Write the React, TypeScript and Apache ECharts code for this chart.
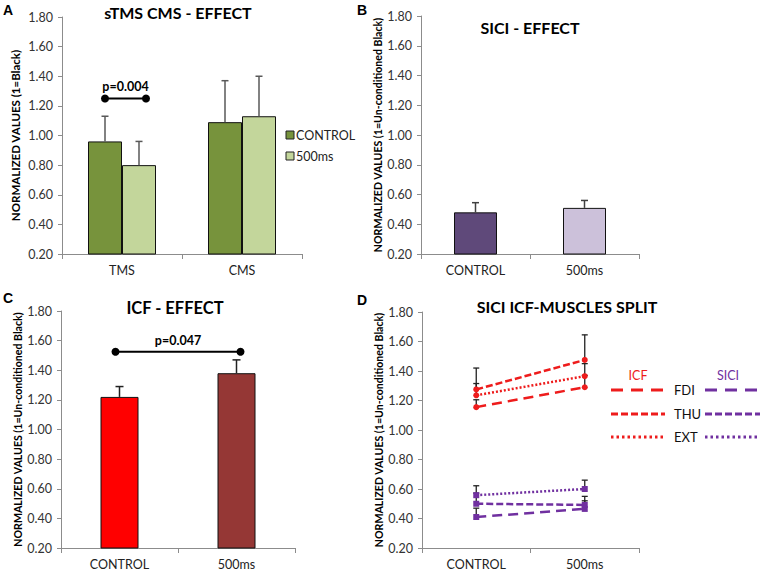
import React, { useEffect, useRef } from "react";
import * as echarts from "echarts";

// ---------- Panel A : sTMS CMS - EFFECT ----------
const aCategories = ["TMS", "CMS"];
const aSeriesNames = ["CONTROL", "500ms"];
const aControl = [0.96, 1.09];
const aControlErr = [1.13, 1.37];
const a500 = [0.8, 1.13];
const a500Err = [0.96, 1.4];
const aSigValue = 1.25;
const aSigLabel = "p=0.004";

// ---------- Panel B : SICI - EFFECT ----------
const bCategories = ["CONTROL", "500ms"];
const bValues = [0.48, 0.51];
const bErr = [0.545, 0.56];

// ---------- Panel C : ICF - EFFECT ----------
const cCategories = ["CONTROL", "500ms"];
const cValues = [1.22, 1.38];
const cErr = [1.29, 1.47];
const cSigValue = 1.525;
const cSigLabel = "p=0.047";

// ---------- Panel D : SICI ICF-MUSCLES SPLIT ----------
const dCategories = ["CONTROL", "500ms"];
const dMuscles = ["FDI", "THU", "EXT"];
const icfFDI = [1.155, 1.29];
const icfFDIErr = [1.205, 1.37];
const icfTHU = [1.275, 1.475];
const icfTHUErr = [1.42, 1.645];
const icfEXT = [1.235, 1.365];
const icfEXTErr = [1.315, 1.45];
const siciFDI = [0.41, 0.465];
const siciFDIErr = [0.47, 0.52];
const siciTHU = [0.5, 0.492];
const siciTHUErr = [0.572, 0.55];
const siciEXT = [0.558, 0.6];
const siciEXTErr = [0.622, 0.66];

const yTicksMin = 0.2;
const yTicksMax = 1.8;
const yTicksStep = 0.2;

const FONT = "Lato";

const errRender = (offset: number, color: string, cap: number, lw: number) =>
  (params: any, api: any) => {
    const xi = api.value(0);
    const p0 = api.coord([xi, api.value(1)]);
    const p1 = api.coord([xi, api.value(2)]);
    const x = p0[0] + offset;
    return {
      type: "group",
      children: [
        { type: "line", shape: { x1: x, y1: p0[1], x2: x, y2: p1[1] }, style: { stroke: color, lineWidth: lw } },
        { type: "line", shape: { x1: x - cap / 2, y1: p1[1], x2: x + cap / 2, y2: p1[1] }, style: { stroke: color, lineWidth: lw } },
      ],
    };
  };

const sigRender = (off1: number, off2: number, label: string) =>
  (params: any, api: any) => {
    const p1 = api.coord([api.value(0), api.value(2)]);
    const p2 = api.coord([api.value(1), api.value(2)]);
    const x1 = p1[0] + off1;
    const x2 = p2[0] + off2;
    const y = p1[1];
    return {
      type: "group",
      children: [
        { type: "line", shape: { x1, y1: y, x2, y2: y }, style: { stroke: "#000", lineWidth: 2 } },
        { type: "circle", shape: { cx: x1, cy: y, r: 4 }, style: { fill: "#000" } },
        { type: "circle", shape: { cx: x2, cy: y, r: 4 }, style: { fill: "#000" } },
        {
          type: "text",
          style: {
            text: label,
            x: (x1 + x2) / 2,
            y: y - 5,
            align: "center",
            verticalAlign: "bottom",
            fontSize: 12.5,
            fontWeight: "bold",
            fontFamily: FONT,
            fill: "#000",
          },
        },
      ],
    };
  };

const errData = (vals: number[], errs: number[]) => vals.map((v, i) => [i, v, errs[i]]);

export default function App() {
  const ref = useRef<HTMLDivElement>(null);

  useEffect(() => {
    if (!ref.current) return;
    const chart = echarts.init(ref.current, null, { renderer: "svg" });

    const grids = [
      { left: 62, top: 17, width: 240, height: 237 },
      { left: 421, top: 16, width: 218, height: 238 },
      { left: 61, top: 311, width: 234, height: 238 },
      { left: 422, top: 312, width: 217, height: 237 },
    ];
    const axisGray = "#8c8c8c";
    const cats = [aCategories, bCategories, cCategories, dCategories];
    const xAxis = cats.map((c, i) => ({
      type: "category",
      gridIndex: i,
      data: c,
      axisLine: { lineStyle: { color: axisGray, width: 1 } },
      axisTick: { show: true, alignWithLabel: false, length: 5, lineStyle: { color: axisGray } },
      axisLabel: { fontSize: 12.5, fontFamily: FONT, color: "#222", margin: 10 },
      splitLine: { show: false },
    }));
    const yNames = [
      "NORMALIZED VALUES (1=Black)",
      "NORMALIZED VALUES (1=Un-conditioned Black)",
      "NORMALIZED VALUES (1=Un-conditioned Black)",
      "NORMALIZED VALUES (1=Un-conditioned Black)",
    ];
    const yNameSize = [11.5, 10.6, 10.6, 10.6];
    const yNameGap = [41, 37, 38, 38];
    const yAxis = yNames.map((n, i) => ({
      type: "value",
      gridIndex: i,
      min: yTicksMin,
      max: yTicksMax,
      interval: yTicksStep,
      name: n,
      nameLocation: "middle",
      nameGap: yNameGap[i],
      nameTextStyle: { fontSize: yNameSize[i], fontWeight: "bold", fontFamily: FONT, color: "#000" },
      axisLine: { show: true, lineStyle: { color: axisGray, width: 1 } },
      axisTick: { show: true, length: 4, lineStyle: { color: axisGray } },
      axisLabel: {
        fontSize: 12.5,
        fontFamily: FONT,
        color: "#333",
        margin: 9,
        formatter: (v: number) => v.toFixed(2),
      },
      splitLine: { show: false },
    }));

    const barBorder = { borderColor: "#111", borderWidth: 1 };
    const aColors = ["#77933c", "#c3d69b"];

    const dLine = (
      name: string,
      vals: number[],
      color: string,
      dash: number[],
      symbol: string
    ) => ({
      type: "line",
      name,
      xAxisIndex: 3,
      yAxisIndex: 3,
      data: vals,
      symbol,
      symbolSize: 6,
      itemStyle: { color },
      lineStyle: { color, width: 2.5, type: dash },
      z: 4,
    });

    const dErr = (vals: number[], errs: number[]) => ({
      type: "custom",
      xAxisIndex: 3,
      yAxisIndex: 3,
      renderItem: errRender(0, "#222", 6, 1.3),
      encode: { x: 0, y: [1, 2] },
      data: errData(vals, errs),
      z: 3,
    });

    const red = "#ee1c1c";
    const purple = "#7030a0";
    const dashFDI = [10, 6];
    const dashTHU = [7, 3];
    const dashEXT = [2, 2];

    const legendDash = [[12, 8], [7, 3], [2.5, 3]];
    const legendY = [390, 414, 437];

    const graphic: any[] = [
      // panel letters
      ...[
        ["A", 8, 10],
        ["B", 362, 10],
        ["C", 8, 298],
        ["D", 362, 300],
      ].map(([t, x, y]) => ({
        type: "text",
        x: x as number,
        y: y as number,
        style: { text: t as string, align: "center", verticalAlign: "middle", font: "bold 14px 'Liberation Sans', Arial", fill: "#000" },
      })),
      // titles
      ...[
        ["sTMS CMS - EFFECT", 178, 12, 16],
        ["SICI - EFFECT", 530, 27, 16],
        ["ICF - EFFECT", 175, 308, 16.5],
        ["SICI ICF-MUSCLES SPLIT", 567, 306, 16],
      ].map(([t, x, y, s]) => ({
        type: "text",
        x: x as number,
        y: y as number,
        style: {
          text: t as string,
          align: "center",
          verticalAlign: "middle",
          fontSize: s as number,
          fontWeight: "bold",
          fontFamily: FONT,
          fill: "#000",
        },
      })),
      // A legend
      ...aSeriesNames.flatMap((n, i) => [
        { type: "rect", shape: { x: 286, y: 131 + i * 21, width: 8, height: 8 }, style: { fill: aColors[i], stroke: "#222", lineWidth: 1 } },
        { type: "text", x: 296, y: 135.5 + i * 21, style: { text: n, align: "left", verticalAlign: "middle", fontSize: 12.5, fontFamily: FONT, fill: "#222" } },
      ]),
      // D legend headers
      { type: "text", x: 638, y: 375, style: { text: "ICF", align: "center", verticalAlign: "middle", fontSize: 12.5, fontFamily: FONT, fill: red } },
      { type: "text", x: 728, y: 375, style: { text: "SICI", align: "center", verticalAlign: "middle", fontSize: 12.5, fontFamily: FONT, fill: purple } },
      ...dMuscles.flatMap((m, i) => [
        { type: "line", shape: { x1: 611, y1: legendY[i], x2: 665, y2: legendY[i] }, style: { stroke: red, lineWidth: 3, lineDash: legendDash[i] } },
        { type: "text", x: 674, y: legendY[i], style: { text: m, align: "left", verticalAlign: "middle", fontSize: 13, fontFamily: FONT, fill: "#111" } },
        { type: "line", shape: { x1: 705, y1: legendY[i], x2: 765, y2: legendY[i] }, style: { stroke: purple, lineWidth: 3, lineDash: legendDash[i] } },
      ]),
    ];

    const option: any = {
      animation: false,
      backgroundColor: "#fff",
      grid: grids,
      xAxis,
      yAxis,
      graphic,
      series: [
        // A
        {
          type: "bar",
          name: aSeriesNames[0],
          xAxisIndex: 0,
          yAxisIndex: 0,
          data: aControl,
          barWidth: 34,
          barGap: "0%",
          itemStyle: { color: aColors[0], ...barBorder },
        },
        {
          type: "bar",
          name: aSeriesNames[1],
          xAxisIndex: 0,
          yAxisIndex: 0,
          data: a500,
          barWidth: 34,
          barGap: "0%",
          itemStyle: { color: aColors[1], ...barBorder },
        },
        {
          type: "custom",
          xAxisIndex: 0,
          yAxisIndex: 0,
          renderItem: errRender(-17, "#595959", 7, 1.5),
          encode: { x: 0, y: [1, 2] },
          data: errData(aControl, aControlErr),
          z: 3,
        },
        {
          type: "custom",
          xAxisIndex: 0,
          yAxisIndex: 0,
          renderItem: errRender(17, "#595959", 7, 1.5),
          encode: { x: 0, y: [1, 2] },
          data: errData(a500, a500Err),
          z: 3,
        },
        {
          type: "custom",
          xAxisIndex: 0,
          yAxisIndex: 0,
          renderItem: sigRender(-17, 24, aSigLabel),
          encode: { x: [0, 1], y: 2 },
          data: [[0, 0, aSigValue]],
          z: 4,
        },
        // B
        {
          type: "bar",
          name: "SICI",
          xAxisIndex: 1,
          yAxisIndex: 1,
          barWidth: 43,
          data: bValues.map((v, i) => ({
            value: v,
            itemStyle: { color: i === 0 ? "#5f497a" : "#ccc1da", ...barBorder },
          })),
        },
        {
          type: "custom",
          xAxisIndex: 1,
          yAxisIndex: 1,
          renderItem: errRender(0, "#404040", 7, 1.5),
          encode: { x: 0, y: [1, 2] },
          data: errData(bValues, bErr),
          z: 3,
        },
        // C
        {
          type: "bar",
          name: "ICF",
          xAxisIndex: 2,
          yAxisIndex: 2,
          barWidth: 38,
          data: cValues.map((v, i) => ({
            value: v,
            itemStyle: { color: i === 0 ? "#ff0000" : "#953735", ...barBorder },
          })),
        },
        {
          type: "custom",
          xAxisIndex: 2,
          yAxisIndex: 2,
          renderItem: errRender(0, "#222", 8, 1.5),
          encode: { x: 0, y: [1, 2] },
          data: errData(cValues, cErr),
          z: 3,
        },
        {
          type: "custom",
          xAxisIndex: 2,
          yAxisIndex: 2,
          renderItem: sigRender(-4, 4, cSigLabel),
          encode: { x: [0, 1], y: 2 },
          data: [[0, 1, cSigValue]],
          z: 4,
        },
        // D
        dErr(icfFDI, icfFDIErr),
        dErr(icfTHU, icfTHUErr),
        dErr(icfEXT, icfEXTErr),
        dErr(siciFDI, siciFDIErr),
        dErr(siciTHU, siciTHUErr),
        dErr(siciEXT, siciEXTErr),
        dLine("ICF FDI", icfFDI, red, dashFDI, "circle"),
        dLine("ICF THU", icfTHU, red, dashTHU, "circle"),
        dLine("ICF EXT", icfEXT, red, dashEXT, "circle"),
        dLine("SICI FDI", siciFDI, purple, dashFDI, "rect"),
        dLine("SICI THU", siciTHU, purple, dashTHU, "rect"),
        dLine("SICI EXT", siciEXT, purple, dashEXT, "rect"),
      ],
    };

    chart.setOption(option);
    return () => chart.dispose();
  }, []);

  return (
    <div
      ref={ref}
      style={{ position: "absolute", left: 0, top: 0, width: 760, height: 571 }}
    />
  );
}
